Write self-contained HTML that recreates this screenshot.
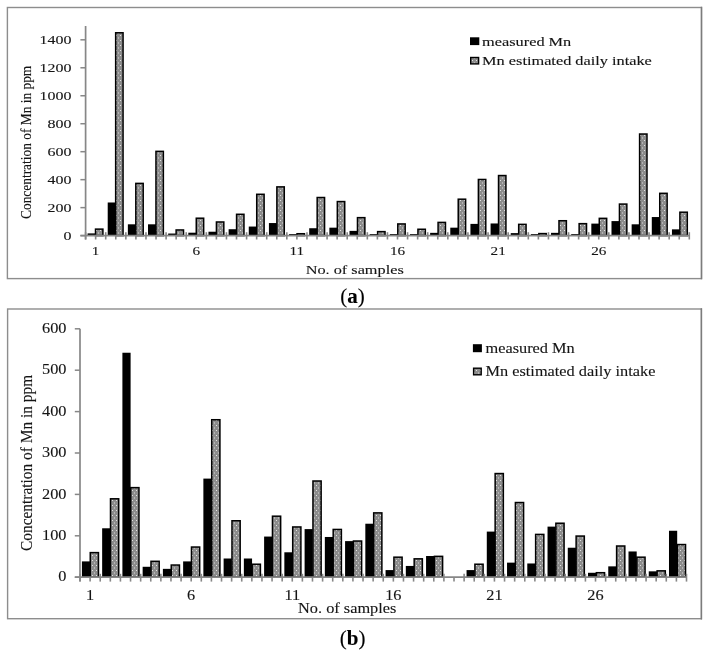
<!DOCTYPE html><html><head><meta charset="utf-8"><style>html,body{margin:0;padding:0;background:#fff;width:710px;height:656px;overflow:hidden}svg{display:block;filter:grayscale(1)}text{font-family:"Liberation Serif",serif;fill:#141414;stroke:#141414;stroke-width:0.12px}</style></head><body>
<svg width="710" height="656" viewBox="0 0 710 656">
<defs><pattern id="dots" patternUnits="userSpaceOnUse" width="4" height="5"><rect width="4" height="5" fill="#8c8c8c"/><rect x="0" y="0" width="1" height="1" fill="#e4e4e4"/><rect x="2" y="2.5" width="1" height="1" fill="#dadada"/></pattern></defs>
<rect width="710" height="656" fill="#fff"/>
<rect x="7.4" y="7.5" width="694.1" height="271.1" fill="none" stroke="#8d8d8d" stroke-width="1.4"/>
<line x1="701.5" y1="6.8" x2="701.5" y2="279.3" stroke="#7c7c7c" stroke-width="1.4"/>
<rect x="87.56" y="233.4" width="8" height="2.2" fill="#000"/>
<rect x="95.51" y="229.12" width="7.4" height="6.48" fill="url(#dots)" stroke="#000" stroke-width="1.5"/>
<rect x="107.71" y="202.49" width="8" height="33.11" fill="#000"/>
<rect x="115.66" y="32.77" width="7.4" height="202.83" fill="url(#dots)" stroke="#000" stroke-width="1.5"/>
<rect x="127.86" y="224.31" width="8" height="11.29" fill="#000"/>
<rect x="135.81" y="183.39" width="7.4" height="52.21" fill="url(#dots)" stroke="#000" stroke-width="1.5"/>
<rect x="148.01" y="224.31" width="8" height="11.29" fill="#000"/>
<rect x="155.96" y="151.36" width="7.4" height="84.24" fill="url(#dots)" stroke="#000" stroke-width="1.5"/>
<rect x="168.17" y="233.54" width="8" height="2.06" fill="#000"/>
<rect x="176.12" y="229.96" width="7.4" height="5.64" fill="url(#dots)" stroke="#000" stroke-width="1.5"/>
<rect x="188.32" y="232.7" width="8" height="2.9" fill="#000"/>
<rect x="196.27" y="218.21" width="7.4" height="17.39" fill="url(#dots)" stroke="#000" stroke-width="1.5"/>
<rect x="208.47" y="231.72" width="8" height="3.88" fill="#000"/>
<rect x="216.42" y="221.98" width="7.4" height="13.62" fill="url(#dots)" stroke="#000" stroke-width="1.5"/>
<rect x="228.62" y="229.21" width="8" height="6.39" fill="#000"/>
<rect x="236.57" y="214.29" width="7.4" height="21.31" fill="url(#dots)" stroke="#000" stroke-width="1.5"/>
<rect x="248.77" y="226.55" width="8" height="9.05" fill="#000"/>
<rect x="256.72" y="194.29" width="7.4" height="41.31" fill="url(#dots)" stroke="#000" stroke-width="1.5"/>
<rect x="268.92" y="223.05" width="8" height="12.55" fill="#000"/>
<rect x="276.87" y="186.88" width="7.4" height="48.72" fill="url(#dots)" stroke="#000" stroke-width="1.5"/>
<rect x="289.07" y="234.1" width="8" height="1.5" fill="#000"/>
<rect x="297.02" y="233.73" width="7.4" height="1.87" fill="url(#dots)" stroke="#000" stroke-width="1.5"/>
<rect x="309.22" y="228.23" width="8" height="7.37" fill="#000"/>
<rect x="317.17" y="197.51" width="7.4" height="38.09" fill="url(#dots)" stroke="#000" stroke-width="1.5"/>
<rect x="329.37" y="227.67" width="8" height="7.93" fill="#000"/>
<rect x="337.32" y="201.57" width="7.4" height="34.03" fill="url(#dots)" stroke="#000" stroke-width="1.5"/>
<rect x="349.52" y="230.88" width="8" height="4.72" fill="#000"/>
<rect x="357.47" y="217.65" width="7.4" height="17.95" fill="url(#dots)" stroke="#000" stroke-width="1.5"/>
<rect x="369.67" y="234.1" width="8" height="1.5" fill="#000"/>
<rect x="377.62" y="231.63" width="7.4" height="3.97" fill="url(#dots)" stroke="#000" stroke-width="1.5"/>
<rect x="389.83" y="234.1" width="8" height="1.5" fill="#000"/>
<rect x="397.78" y="223.94" width="7.4" height="11.66" fill="url(#dots)" stroke="#000" stroke-width="1.5"/>
<rect x="409.98" y="234.1" width="8" height="1.5" fill="#000"/>
<rect x="417.93" y="229.26" width="7.4" height="6.34" fill="url(#dots)" stroke="#000" stroke-width="1.5"/>
<rect x="430.13" y="232.84" width="8" height="2.76" fill="#000"/>
<rect x="438.08" y="222.4" width="7.4" height="13.2" fill="url(#dots)" stroke="#000" stroke-width="1.5"/>
<rect x="450.28" y="227.67" width="8" height="7.93" fill="#000"/>
<rect x="458.23" y="199.19" width="7.4" height="36.41" fill="url(#dots)" stroke="#000" stroke-width="1.5"/>
<rect x="470.43" y="223.89" width="8" height="11.71" fill="#000"/>
<rect x="478.38" y="179.47" width="7.4" height="56.13" fill="url(#dots)" stroke="#000" stroke-width="1.5"/>
<rect x="490.58" y="223.47" width="8" height="12.13" fill="#000"/>
<rect x="498.53" y="175.55" width="7.4" height="60.05" fill="url(#dots)" stroke="#000" stroke-width="1.5"/>
<rect x="510.73" y="233.12" width="8" height="2.48" fill="#000"/>
<rect x="518.68" y="224.36" width="7.4" height="11.24" fill="url(#dots)" stroke="#000" stroke-width="1.5"/>
<rect x="530.88" y="234.1" width="8" height="1.5" fill="#000"/>
<rect x="538.83" y="233.59" width="7.4" height="2.01" fill="url(#dots)" stroke="#000" stroke-width="1.5"/>
<rect x="551.03" y="232.84" width="8" height="2.76" fill="#000"/>
<rect x="558.98" y="220.73" width="7.4" height="14.87" fill="url(#dots)" stroke="#000" stroke-width="1.5"/>
<rect x="571.18" y="234.1" width="8" height="1.5" fill="#000"/>
<rect x="579.13" y="223.66" width="7.4" height="11.94" fill="url(#dots)" stroke="#000" stroke-width="1.5"/>
<rect x="591.33" y="223.61" width="8" height="11.99" fill="#000"/>
<rect x="599.28" y="218.35" width="7.4" height="17.25" fill="url(#dots)" stroke="#000" stroke-width="1.5"/>
<rect x="611.49" y="221.09" width="8" height="14.51" fill="#000"/>
<rect x="619.44" y="204.08" width="7.4" height="31.52" fill="url(#dots)" stroke="#000" stroke-width="1.5"/>
<rect x="631.64" y="224.31" width="8" height="11.29" fill="#000"/>
<rect x="639.59" y="134.02" width="7.4" height="101.58" fill="url(#dots)" stroke="#000" stroke-width="1.5"/>
<rect x="651.79" y="217.04" width="8" height="18.56" fill="#000"/>
<rect x="659.74" y="193.32" width="7.4" height="42.28" fill="url(#dots)" stroke="#000" stroke-width="1.5"/>
<rect x="671.94" y="229.35" width="8" height="6.25" fill="#000"/>
<rect x="679.89" y="212.2" width="7.4" height="23.4" fill="url(#dots)" stroke="#000" stroke-width="1.5"/>
<line x1="85.6" y1="26" x2="85.6" y2="239.5" stroke="#878787" stroke-width="1.7"/>
<line x1="80.4" y1="235.6" x2="689.3" y2="235.6" stroke="#878787" stroke-width="1.7"/>
<line x1="80.4" y1="235.6" x2="85.6" y2="235.6" stroke="#878787" stroke-width="1.5"/>
<line x1="80.4" y1="207.63" x2="85.6" y2="207.63" stroke="#878787" stroke-width="1.5"/>
<line x1="80.4" y1="179.66" x2="85.6" y2="179.66" stroke="#878787" stroke-width="1.5"/>
<line x1="80.4" y1="151.69" x2="85.6" y2="151.69" stroke="#878787" stroke-width="1.5"/>
<line x1="80.4" y1="123.72" x2="85.6" y2="123.72" stroke="#878787" stroke-width="1.5"/>
<line x1="80.4" y1="95.75" x2="85.6" y2="95.75" stroke="#878787" stroke-width="1.5"/>
<line x1="80.4" y1="67.78" x2="85.6" y2="67.78" stroke="#878787" stroke-width="1.5"/>
<line x1="80.4" y1="39.81" x2="85.6" y2="39.81" stroke="#878787" stroke-width="1.5"/>
<line x1="85.6" y1="232.2" x2="85.6" y2="239.5" stroke="#878787" stroke-width="1.6"/>
<line x1="95.66" y1="235.6" x2="95.66" y2="239.5" stroke="#878787" stroke-width="1.6"/>
<line x1="105.72" y1="232.2" x2="105.72" y2="239.5" stroke="#878787" stroke-width="1.6"/>
<line x1="115.78" y1="235.6" x2="115.78" y2="239.5" stroke="#878787" stroke-width="1.6"/>
<line x1="125.85" y1="232.2" x2="125.85" y2="239.5" stroke="#878787" stroke-width="1.6"/>
<line x1="135.91" y1="235.6" x2="135.91" y2="239.5" stroke="#878787" stroke-width="1.6"/>
<line x1="145.97" y1="232.2" x2="145.97" y2="239.5" stroke="#878787" stroke-width="1.6"/>
<line x1="156.03" y1="235.6" x2="156.03" y2="239.5" stroke="#878787" stroke-width="1.6"/>
<line x1="166.09" y1="232.2" x2="166.09" y2="239.5" stroke="#878787" stroke-width="1.6"/>
<line x1="176.15" y1="235.6" x2="176.15" y2="239.5" stroke="#878787" stroke-width="1.6"/>
<line x1="186.22" y1="232.2" x2="186.22" y2="239.5" stroke="#878787" stroke-width="1.6"/>
<line x1="196.28" y1="235.6" x2="196.28" y2="239.5" stroke="#878787" stroke-width="1.6"/>
<line x1="206.34" y1="232.2" x2="206.34" y2="239.5" stroke="#878787" stroke-width="1.6"/>
<line x1="216.4" y1="235.6" x2="216.4" y2="239.5" stroke="#878787" stroke-width="1.6"/>
<line x1="226.46" y1="232.2" x2="226.46" y2="239.5" stroke="#878787" stroke-width="1.6"/>
<line x1="236.52" y1="235.6" x2="236.52" y2="239.5" stroke="#878787" stroke-width="1.6"/>
<line x1="246.59" y1="232.2" x2="246.59" y2="239.5" stroke="#878787" stroke-width="1.6"/>
<line x1="256.65" y1="235.6" x2="256.65" y2="239.5" stroke="#878787" stroke-width="1.6"/>
<line x1="266.71" y1="232.2" x2="266.71" y2="239.5" stroke="#878787" stroke-width="1.6"/>
<line x1="276.77" y1="235.6" x2="276.77" y2="239.5" stroke="#878787" stroke-width="1.6"/>
<line x1="286.83" y1="232.2" x2="286.83" y2="239.5" stroke="#878787" stroke-width="1.6"/>
<line x1="296.89" y1="235.6" x2="296.89" y2="239.5" stroke="#878787" stroke-width="1.6"/>
<line x1="306.96" y1="232.2" x2="306.96" y2="239.5" stroke="#878787" stroke-width="1.6"/>
<line x1="317.02" y1="235.6" x2="317.02" y2="239.5" stroke="#878787" stroke-width="1.6"/>
<line x1="327.08" y1="232.2" x2="327.08" y2="239.5" stroke="#878787" stroke-width="1.6"/>
<line x1="337.14" y1="235.6" x2="337.14" y2="239.5" stroke="#878787" stroke-width="1.6"/>
<line x1="347.2" y1="232.2" x2="347.2" y2="239.5" stroke="#878787" stroke-width="1.6"/>
<line x1="357.26" y1="235.6" x2="357.26" y2="239.5" stroke="#878787" stroke-width="1.6"/>
<line x1="367.33" y1="232.2" x2="367.33" y2="239.5" stroke="#878787" stroke-width="1.6"/>
<line x1="377.39" y1="235.6" x2="377.39" y2="239.5" stroke="#878787" stroke-width="1.6"/>
<line x1="387.45" y1="232.2" x2="387.45" y2="239.5" stroke="#878787" stroke-width="1.6"/>
<line x1="397.51" y1="235.6" x2="397.51" y2="239.5" stroke="#878787" stroke-width="1.6"/>
<line x1="407.57" y1="232.2" x2="407.57" y2="239.5" stroke="#878787" stroke-width="1.6"/>
<line x1="417.63" y1="235.6" x2="417.63" y2="239.5" stroke="#878787" stroke-width="1.6"/>
<line x1="427.7" y1="232.2" x2="427.7" y2="239.5" stroke="#878787" stroke-width="1.6"/>
<line x1="437.76" y1="235.6" x2="437.76" y2="239.5" stroke="#878787" stroke-width="1.6"/>
<line x1="447.82" y1="232.2" x2="447.82" y2="239.5" stroke="#878787" stroke-width="1.6"/>
<line x1="457.88" y1="235.6" x2="457.88" y2="239.5" stroke="#878787" stroke-width="1.6"/>
<line x1="467.94" y1="232.2" x2="467.94" y2="239.5" stroke="#878787" stroke-width="1.6"/>
<line x1="478" y1="235.6" x2="478" y2="239.5" stroke="#878787" stroke-width="1.6"/>
<line x1="488.07" y1="232.2" x2="488.07" y2="239.5" stroke="#878787" stroke-width="1.6"/>
<line x1="498.13" y1="235.6" x2="498.13" y2="239.5" stroke="#878787" stroke-width="1.6"/>
<line x1="508.19" y1="232.2" x2="508.19" y2="239.5" stroke="#878787" stroke-width="1.6"/>
<line x1="518.25" y1="235.6" x2="518.25" y2="239.5" stroke="#878787" stroke-width="1.6"/>
<line x1="528.31" y1="232.2" x2="528.31" y2="239.5" stroke="#878787" stroke-width="1.6"/>
<line x1="538.37" y1="235.6" x2="538.37" y2="239.5" stroke="#878787" stroke-width="1.6"/>
<line x1="548.44" y1="232.2" x2="548.44" y2="239.5" stroke="#878787" stroke-width="1.6"/>
<line x1="558.5" y1="235.6" x2="558.5" y2="239.5" stroke="#878787" stroke-width="1.6"/>
<line x1="568.56" y1="232.2" x2="568.56" y2="239.5" stroke="#878787" stroke-width="1.6"/>
<line x1="578.62" y1="235.6" x2="578.62" y2="239.5" stroke="#878787" stroke-width="1.6"/>
<line x1="588.68" y1="232.2" x2="588.68" y2="239.5" stroke="#878787" stroke-width="1.6"/>
<line x1="598.74" y1="235.6" x2="598.74" y2="239.5" stroke="#878787" stroke-width="1.6"/>
<line x1="608.81" y1="232.2" x2="608.81" y2="239.5" stroke="#878787" stroke-width="1.6"/>
<line x1="618.87" y1="235.6" x2="618.87" y2="239.5" stroke="#878787" stroke-width="1.6"/>
<line x1="628.93" y1="232.2" x2="628.93" y2="239.5" stroke="#878787" stroke-width="1.6"/>
<line x1="638.99" y1="235.6" x2="638.99" y2="239.5" stroke="#878787" stroke-width="1.6"/>
<line x1="649.05" y1="232.2" x2="649.05" y2="239.5" stroke="#878787" stroke-width="1.6"/>
<line x1="659.11" y1="235.6" x2="659.11" y2="239.5" stroke="#878787" stroke-width="1.6"/>
<line x1="669.18" y1="232.2" x2="669.18" y2="239.5" stroke="#878787" stroke-width="1.6"/>
<line x1="679.24" y1="235.6" x2="679.24" y2="239.5" stroke="#878787" stroke-width="1.6"/>
<line x1="689.3" y1="232.2" x2="689.3" y2="239.5" stroke="#878787" stroke-width="1.6"/>
<text transform="translate(71.4,239.7) scale(1.228,1)" font-size="13" text-anchor="end">0</text>
<text transform="translate(71.4,211.73) scale(1.228,1)" font-size="13" text-anchor="end">200</text>
<text transform="translate(71.4,183.76) scale(1.228,1)" font-size="13" text-anchor="end">400</text>
<text transform="translate(71.4,155.79) scale(1.228,1)" font-size="13" text-anchor="end">600</text>
<text transform="translate(71.4,127.82) scale(1.228,1)" font-size="13" text-anchor="end">800</text>
<text transform="translate(71.4,99.85) scale(1.228,1)" font-size="13" text-anchor="end">1000</text>
<text transform="translate(71.4,71.88) scale(1.228,1)" font-size="13" text-anchor="end">1200</text>
<text transform="translate(71.4,43.91) scale(1.228,1)" font-size="13" text-anchor="end">1400</text>
<text transform="translate(95.66,254.7) scale(1.17,1)" font-size="13" text-anchor="middle">1</text>
<text transform="translate(196.28,254.7) scale(1.17,1)" font-size="13" text-anchor="middle">6</text>
<text transform="translate(296.89,254.7) scale(1.17,1)" font-size="13" text-anchor="middle">11</text>
<text transform="translate(397.51,254.7) scale(1.17,1)" font-size="13" text-anchor="middle">16</text>
<text transform="translate(498.13,254.7) scale(1.17,1)" font-size="13" text-anchor="middle">21</text>
<text transform="translate(598.75,254.7) scale(1.17,1)" font-size="13" text-anchor="middle">26</text>
<text transform="translate(354.7,273.5) scale(1.303,1)" font-size="12.5" text-anchor="middle">No. of samples</text>
<text transform="translate(30.5,142.35) rotate(-90) scale(1,1.08)" font-size="13.4" text-anchor="middle">Concentration of Mn in ppm</text>
<rect x="470" y="37.3" width="9.3" height="7.8" fill="#000"/>
<rect x="470.7" y="57.5" width="7.9" height="6.4" fill="url(#dots)" stroke="#000" stroke-width="1.4"/>
<text transform="translate(482.1,45.5) scale(1.306,1)" font-size="12.5" text-anchor="start">measured Mn</text>
<text transform="translate(482.1,64.7) scale(1.306,1)" font-size="12.5" text-anchor="start">Mn estimated daily intake</text>
<rect x="7.6" y="309" width="693.8" height="309.7" fill="none" stroke="#8d8d8d" stroke-width="1.4"/>
<line x1="701.4" y1="308.3" x2="701.4" y2="619.4" stroke="#7c7c7c" stroke-width="1.4"/>
<rect x="81.91" y="561.4" width="8.2" height="15.8" fill="#000"/>
<rect x="90.26" y="552.62" width="8.2" height="24.58" fill="url(#dots)" stroke="#000" stroke-width="1.5"/>
<rect x="102.15" y="528.28" width="8.2" height="48.92" fill="#000"/>
<rect x="110.5" y="498.8" width="8.2" height="78.4" fill="url(#dots)" stroke="#000" stroke-width="1.5"/>
<rect x="122.4" y="352.74" width="8.2" height="224.46" fill="#000"/>
<rect x="130.75" y="487.63" width="8.2" height="89.57" fill="url(#dots)" stroke="#000" stroke-width="1.5"/>
<rect x="142.64" y="566.78" width="8.2" height="10.42" fill="#000"/>
<rect x="150.99" y="561.32" width="8.2" height="15.88" fill="url(#dots)" stroke="#000" stroke-width="1.5"/>
<rect x="162.89" y="568.85" width="8.2" height="8.35" fill="#000"/>
<rect x="171.24" y="565.04" width="8.2" height="12.16" fill="url(#dots)" stroke="#000" stroke-width="1.5"/>
<rect x="183.13" y="561.4" width="8.2" height="15.8" fill="#000"/>
<rect x="191.48" y="547.04" width="8.2" height="30.16" fill="url(#dots)" stroke="#000" stroke-width="1.5"/>
<rect x="203.37" y="478.6" width="8.2" height="98.6" fill="#000"/>
<rect x="211.72" y="419.73" width="8.2" height="157.47" fill="url(#dots)" stroke="#000" stroke-width="1.5"/>
<rect x="223.62" y="558.5" width="8.2" height="18.7" fill="#000"/>
<rect x="231.97" y="520.75" width="8.2" height="56.45" fill="url(#dots)" stroke="#000" stroke-width="1.5"/>
<rect x="243.86" y="558.5" width="8.2" height="18.7" fill="#000"/>
<rect x="252.21" y="564.22" width="8.2" height="12.98" fill="url(#dots)" stroke="#000" stroke-width="1.5"/>
<rect x="264.11" y="536.56" width="8.2" height="40.64" fill="#000"/>
<rect x="272.46" y="516.19" width="8.2" height="61.01" fill="url(#dots)" stroke="#000" stroke-width="1.5"/>
<rect x="284.35" y="552.29" width="8.2" height="24.91" fill="#000"/>
<rect x="292.7" y="526.96" width="8.2" height="50.24" fill="url(#dots)" stroke="#000" stroke-width="1.5"/>
<rect x="304.6" y="529.1" width="8.2" height="48.1" fill="#000"/>
<rect x="312.95" y="481" width="8.2" height="96.2" fill="url(#dots)" stroke="#000" stroke-width="1.5"/>
<rect x="324.84" y="536.97" width="8.2" height="40.23" fill="#000"/>
<rect x="333.19" y="529.44" width="8.2" height="47.76" fill="url(#dots)" stroke="#000" stroke-width="1.5"/>
<rect x="345.08" y="541.11" width="8.2" height="36.09" fill="#000"/>
<rect x="353.43" y="541.03" width="8.2" height="36.17" fill="url(#dots)" stroke="#000" stroke-width="1.5"/>
<rect x="365.33" y="523.72" width="8.2" height="53.48" fill="#000"/>
<rect x="373.68" y="512.88" width="8.2" height="64.32" fill="url(#dots)" stroke="#000" stroke-width="1.5"/>
<rect x="385.57" y="570.09" width="8.2" height="7.11" fill="#000"/>
<rect x="393.92" y="557.18" width="8.2" height="20.02" fill="url(#dots)" stroke="#000" stroke-width="1.5"/>
<rect x="405.82" y="565.95" width="8.2" height="11.25" fill="#000"/>
<rect x="414.17" y="558.83" width="8.2" height="18.37" fill="url(#dots)" stroke="#000" stroke-width="1.5"/>
<rect x="426.06" y="556.01" width="8.2" height="21.19" fill="#000"/>
<rect x="434.41" y="556.35" width="8.2" height="20.85" fill="url(#dots)" stroke="#000" stroke-width="1.5"/>
<rect x="466.55" y="570.09" width="8.2" height="7.11" fill="#000"/>
<rect x="474.9" y="564.22" width="8.2" height="12.98" fill="url(#dots)" stroke="#000" stroke-width="1.5"/>
<rect x="486.79" y="531.59" width="8.2" height="45.61" fill="#000"/>
<rect x="495.14" y="473.55" width="8.2" height="103.65" fill="url(#dots)" stroke="#000" stroke-width="1.5"/>
<rect x="507.04" y="562.64" width="8.2" height="14.56" fill="#000"/>
<rect x="515.39" y="502.53" width="8.2" height="74.67" fill="url(#dots)" stroke="#000" stroke-width="1.5"/>
<rect x="527.28" y="563.47" width="8.2" height="13.73" fill="#000"/>
<rect x="535.63" y="534.41" width="8.2" height="42.79" fill="url(#dots)" stroke="#000" stroke-width="1.5"/>
<rect x="547.53" y="526.62" width="8.2" height="50.58" fill="#000"/>
<rect x="555.88" y="523.23" width="8.2" height="53.97" fill="url(#dots)" stroke="#000" stroke-width="1.5"/>
<rect x="567.77" y="547.73" width="8.2" height="29.47" fill="#000"/>
<rect x="576.12" y="536.06" width="8.2" height="41.14" fill="url(#dots)" stroke="#000" stroke-width="1.5"/>
<rect x="588.01" y="572.78" width="8.2" height="4.42" fill="#000"/>
<rect x="596.36" y="572.7" width="8.2" height="4.5" fill="url(#dots)" stroke="#000" stroke-width="1.5"/>
<rect x="608.26" y="566.36" width="8.2" height="10.84" fill="#000"/>
<rect x="616.61" y="546" width="8.2" height="31.2" fill="url(#dots)" stroke="#000" stroke-width="1.5"/>
<rect x="628.5" y="551.46" width="8.2" height="25.74" fill="#000"/>
<rect x="636.85" y="557.18" width="8.2" height="20.02" fill="url(#dots)" stroke="#000" stroke-width="1.5"/>
<rect x="648.75" y="571.33" width="8.2" height="5.87" fill="#000"/>
<rect x="657.1" y="570.84" width="8.2" height="6.36" fill="url(#dots)" stroke="#000" stroke-width="1.5"/>
<rect x="668.99" y="530.76" width="8.2" height="46.44" fill="#000"/>
<rect x="677.34" y="544.55" width="8.2" height="32.65" fill="url(#dots)" stroke="#000" stroke-width="1.5"/>
<line x1="80" y1="328.7" x2="80" y2="581.6" stroke="#878787" stroke-width="1.7"/>
<line x1="74.8" y1="577.2" x2="686.5" y2="577.2" stroke="#878787" stroke-width="1.7"/>
<line x1="74.8" y1="577.2" x2="80" y2="577.2" stroke="#878787" stroke-width="1.5"/>
<line x1="74.8" y1="535.8" x2="80" y2="535.8" stroke="#878787" stroke-width="1.5"/>
<line x1="74.8" y1="494.4" x2="80" y2="494.4" stroke="#878787" stroke-width="1.5"/>
<line x1="74.8" y1="453" x2="80" y2="453" stroke="#878787" stroke-width="1.5"/>
<line x1="74.8" y1="411.6" x2="80" y2="411.6" stroke="#878787" stroke-width="1.5"/>
<line x1="74.8" y1="370.2" x2="80" y2="370.2" stroke="#878787" stroke-width="1.5"/>
<line x1="74.8" y1="328.8" x2="80" y2="328.8" stroke="#878787" stroke-width="1.5"/>
<line x1="80" y1="573.8" x2="80" y2="581.6" stroke="#878787" stroke-width="1.6"/>
<line x1="90.11" y1="577.2" x2="90.11" y2="581.6" stroke="#878787" stroke-width="1.6"/>
<line x1="100.22" y1="573.8" x2="100.22" y2="581.6" stroke="#878787" stroke-width="1.6"/>
<line x1="110.33" y1="577.2" x2="110.33" y2="581.6" stroke="#878787" stroke-width="1.6"/>
<line x1="120.43" y1="573.8" x2="120.43" y2="581.6" stroke="#878787" stroke-width="1.6"/>
<line x1="130.54" y1="577.2" x2="130.54" y2="581.6" stroke="#878787" stroke-width="1.6"/>
<line x1="140.65" y1="573.8" x2="140.65" y2="581.6" stroke="#878787" stroke-width="1.6"/>
<line x1="150.76" y1="577.2" x2="150.76" y2="581.6" stroke="#878787" stroke-width="1.6"/>
<line x1="160.87" y1="573.8" x2="160.87" y2="581.6" stroke="#878787" stroke-width="1.6"/>
<line x1="170.97" y1="577.2" x2="170.97" y2="581.6" stroke="#878787" stroke-width="1.6"/>
<line x1="181.08" y1="573.8" x2="181.08" y2="581.6" stroke="#878787" stroke-width="1.6"/>
<line x1="191.19" y1="577.2" x2="191.19" y2="581.6" stroke="#878787" stroke-width="1.6"/>
<line x1="201.3" y1="573.8" x2="201.3" y2="581.6" stroke="#878787" stroke-width="1.6"/>
<line x1="211.41" y1="577.2" x2="211.41" y2="581.6" stroke="#878787" stroke-width="1.6"/>
<line x1="221.52" y1="573.8" x2="221.52" y2="581.6" stroke="#878787" stroke-width="1.6"/>
<line x1="231.62" y1="577.2" x2="231.62" y2="581.6" stroke="#878787" stroke-width="1.6"/>
<line x1="241.73" y1="573.8" x2="241.73" y2="581.6" stroke="#878787" stroke-width="1.6"/>
<line x1="251.84" y1="577.2" x2="251.84" y2="581.6" stroke="#878787" stroke-width="1.6"/>
<line x1="261.95" y1="573.8" x2="261.95" y2="581.6" stroke="#878787" stroke-width="1.6"/>
<line x1="272.06" y1="577.2" x2="272.06" y2="581.6" stroke="#878787" stroke-width="1.6"/>
<line x1="282.17" y1="573.8" x2="282.17" y2="581.6" stroke="#878787" stroke-width="1.6"/>
<line x1="292.27" y1="577.2" x2="292.27" y2="581.6" stroke="#878787" stroke-width="1.6"/>
<line x1="302.38" y1="573.8" x2="302.38" y2="581.6" stroke="#878787" stroke-width="1.6"/>
<line x1="312.49" y1="577.2" x2="312.49" y2="581.6" stroke="#878787" stroke-width="1.6"/>
<line x1="322.6" y1="573.8" x2="322.6" y2="581.6" stroke="#878787" stroke-width="1.6"/>
<line x1="332.71" y1="577.2" x2="332.71" y2="581.6" stroke="#878787" stroke-width="1.6"/>
<line x1="342.82" y1="573.8" x2="342.82" y2="581.6" stroke="#878787" stroke-width="1.6"/>
<line x1="352.93" y1="577.2" x2="352.93" y2="581.6" stroke="#878787" stroke-width="1.6"/>
<line x1="363.03" y1="573.8" x2="363.03" y2="581.6" stroke="#878787" stroke-width="1.6"/>
<line x1="373.14" y1="577.2" x2="373.14" y2="581.6" stroke="#878787" stroke-width="1.6"/>
<line x1="383.25" y1="573.8" x2="383.25" y2="581.6" stroke="#878787" stroke-width="1.6"/>
<line x1="393.36" y1="577.2" x2="393.36" y2="581.6" stroke="#878787" stroke-width="1.6"/>
<line x1="403.47" y1="573.8" x2="403.47" y2="581.6" stroke="#878787" stroke-width="1.6"/>
<line x1="413.57" y1="577.2" x2="413.57" y2="581.6" stroke="#878787" stroke-width="1.6"/>
<line x1="423.68" y1="573.8" x2="423.68" y2="581.6" stroke="#878787" stroke-width="1.6"/>
<line x1="433.79" y1="577.2" x2="433.79" y2="581.6" stroke="#878787" stroke-width="1.6"/>
<line x1="443.9" y1="573.8" x2="443.9" y2="581.6" stroke="#878787" stroke-width="1.6"/>
<line x1="454.01" y1="577.2" x2="454.01" y2="581.6" stroke="#878787" stroke-width="1.6"/>
<line x1="464.12" y1="573.8" x2="464.12" y2="581.6" stroke="#878787" stroke-width="1.6"/>
<line x1="474.22" y1="577.2" x2="474.22" y2="581.6" stroke="#878787" stroke-width="1.6"/>
<line x1="484.33" y1="573.8" x2="484.33" y2="581.6" stroke="#878787" stroke-width="1.6"/>
<line x1="494.44" y1="577.2" x2="494.44" y2="581.6" stroke="#878787" stroke-width="1.6"/>
<line x1="504.55" y1="573.8" x2="504.55" y2="581.6" stroke="#878787" stroke-width="1.6"/>
<line x1="514.66" y1="577.2" x2="514.66" y2="581.6" stroke="#878787" stroke-width="1.6"/>
<line x1="524.77" y1="573.8" x2="524.77" y2="581.6" stroke="#878787" stroke-width="1.6"/>
<line x1="534.88" y1="577.2" x2="534.88" y2="581.6" stroke="#878787" stroke-width="1.6"/>
<line x1="544.98" y1="573.8" x2="544.98" y2="581.6" stroke="#878787" stroke-width="1.6"/>
<line x1="555.09" y1="577.2" x2="555.09" y2="581.6" stroke="#878787" stroke-width="1.6"/>
<line x1="565.2" y1="573.8" x2="565.2" y2="581.6" stroke="#878787" stroke-width="1.6"/>
<line x1="575.31" y1="577.2" x2="575.31" y2="581.6" stroke="#878787" stroke-width="1.6"/>
<line x1="585.42" y1="573.8" x2="585.42" y2="581.6" stroke="#878787" stroke-width="1.6"/>
<line x1="595.52" y1="577.2" x2="595.52" y2="581.6" stroke="#878787" stroke-width="1.6"/>
<line x1="605.63" y1="573.8" x2="605.63" y2="581.6" stroke="#878787" stroke-width="1.6"/>
<line x1="615.74" y1="577.2" x2="615.74" y2="581.6" stroke="#878787" stroke-width="1.6"/>
<line x1="625.85" y1="573.8" x2="625.85" y2="581.6" stroke="#878787" stroke-width="1.6"/>
<line x1="635.96" y1="577.2" x2="635.96" y2="581.6" stroke="#878787" stroke-width="1.6"/>
<line x1="646.07" y1="573.8" x2="646.07" y2="581.6" stroke="#878787" stroke-width="1.6"/>
<line x1="656.17" y1="577.2" x2="656.17" y2="581.6" stroke="#878787" stroke-width="1.6"/>
<line x1="666.28" y1="573.8" x2="666.28" y2="581.6" stroke="#878787" stroke-width="1.6"/>
<line x1="676.39" y1="577.2" x2="676.39" y2="581.6" stroke="#878787" stroke-width="1.6"/>
<line x1="686.5" y1="573.8" x2="686.5" y2="581.6" stroke="#878787" stroke-width="1.6"/>
<text transform="translate(66.5,581.3) scale(1.06,1)" font-size="15.4" text-anchor="end">0</text>
<text transform="translate(66.5,539.9) scale(1.06,1)" font-size="15.4" text-anchor="end">100</text>
<text transform="translate(66.5,498.5) scale(1.06,1)" font-size="15.4" text-anchor="end">200</text>
<text transform="translate(66.5,457.1) scale(1.06,1)" font-size="15.4" text-anchor="end">300</text>
<text transform="translate(66.5,415.7) scale(1.06,1)" font-size="15.4" text-anchor="end">400</text>
<text transform="translate(66.5,374.3) scale(1.06,1)" font-size="15.4" text-anchor="end">500</text>
<text transform="translate(66.5,332.9) scale(1.06,1)" font-size="15.4" text-anchor="end">600</text>
<text transform="translate(90.11,600) scale(1.06,1)" font-size="15.4" text-anchor="middle">1</text>
<text transform="translate(191.19,600) scale(1.06,1)" font-size="15.4" text-anchor="middle">6</text>
<text transform="translate(292.27,600) scale(1.06,1)" font-size="15.4" text-anchor="middle">11</text>
<text transform="translate(393.36,600) scale(1.06,1)" font-size="15.4" text-anchor="middle">16</text>
<text transform="translate(494.44,600) scale(1.06,1)" font-size="15.4" text-anchor="middle">21</text>
<text transform="translate(595.52,600) scale(1.06,1)" font-size="15.4" text-anchor="middle">26</text>
<text transform="translate(347.2,613.2) scale(1.06,1)" font-size="15.4" text-anchor="middle">No. of samples</text>
<text transform="translate(32.3,462.9) rotate(-90) scale(1,1.06)" font-size="15.4" text-anchor="middle">Concentration of Mn in ppm</text>
<rect x="472.9" y="344.2" width="9" height="8" fill="#000"/>
<rect x="473.6" y="368.2" width="7.6" height="6.6" fill="url(#dots)" stroke="#000" stroke-width="1.4"/>
<text transform="translate(485.5,352.9) scale(1.06,1)" font-size="15.4" text-anchor="start">measured Mn</text>
<text transform="translate(485.5,376.3) scale(1.06,1)" font-size="15.4" text-anchor="start">Mn estimated daily intake</text>
<text x="352.6" y="303.2" font-size="21" text-anchor="middle" style="fill:#000">(<tspan font-weight="bold">a</tspan>)</text>
<text x="352.6" y="644.6" font-size="21" text-anchor="middle" style="fill:#000">(<tspan font-weight="bold">b</tspan>)</text>
</svg></body></html>
